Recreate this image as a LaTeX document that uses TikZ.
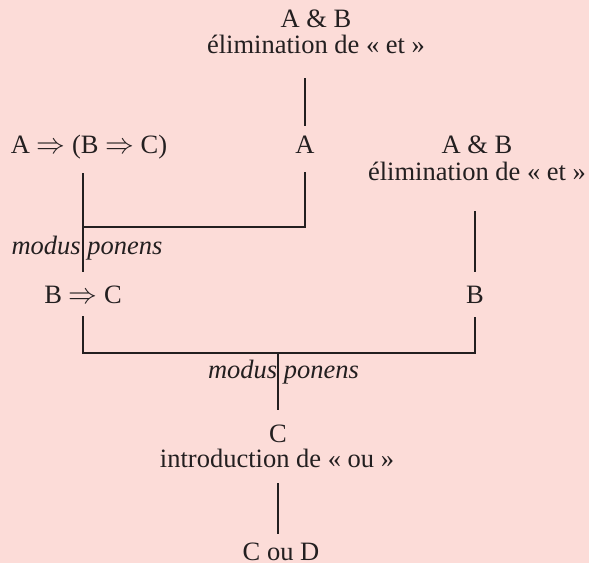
\documentclass[tikz,border=0pt]{standalone}
\usepackage{fontspec}
\setmainfont{Liberation Serif}
\usepackage{xcolor}
\usepackage{tikz}
\definecolor{bgpink}{RGB}{252,220,216}
\definecolor{inkgray}{RGB}{35,31,32}

\begin{document}
\begin{tikzpicture}[
    x=0.5pt, y=-0.5pt,
    formula/.style={anchor=base, inner sep=0pt, text=inkgray, font=\fontsize{13.25}{15}\selectfont},
    rulename/.style={formula},
    modus/.style={formula, font=\fontsize{13.25}{15}\selectfont\itshape},
    ruleline/.style={draw=inkgray, line width=0.7pt}
]
\fill[bgpink] (0,0) rectangle (589,563);
\useasboundingbox (0,0) rectangle (589,563);

\node[formula] (ab1) at (316,27) {A \& B};
\node[rulename] (elim1) at (316,53) {élimination de «~et~»};
\node[formula] (impl) at (89,153) {A $\Rightarrow$ (B $\Rightarrow$ C)};
\node[formula] (a) at (305,153) {A};
\node[formula] (ab2) at (477,153) {A \& B};
\node[rulename] (elim2) at (477,180) {élimination de «~et~»};
\node[modus] (mp1) at (87,254) {modus ponens};
\node[formula] (bc) at (83,303) {B $\Rightarrow$ C};
\node[formula] (b) at (475,303) {B};
\node[modus] (mp2) at (283.5,378) {modus ponens};
\node[formula] (c) at (278,442) {C};
\node[rulename] (intro) at (277,467) {introduction de «~ou~»};
\node[formula] (cord) at (281,560) {C ou D};

\coordinate (bar1) at (305,227);
\coordinate (bar2) at (278,353);

\draw[ruleline, shorten <=12.5pt, shorten >=13.5pt] (elim1.base -| a.base) -- (a.base);
\draw[ruleline, shorten <=10pt, shorten >=15.5pt] (impl.base -| bc.base) -- (bc.base);
\draw[ruleline, shorten <=9.5pt] (a.base) -- (bar1) -- (bar1 -| bc.base);
\draw[ruleline, shorten <=15.5pt, shorten >=15.5pt] (elim2.base -| b.base) -- (b.base);
\draw[ruleline, shorten <=6.5pt, shorten >=7pt] (bc.base) -- (bar2 -| bc.base) -- (bar2 -| b.base) -- (b.base);
\draw[ruleline, shorten >=16pt] (bar2) -- (c.base);
\draw[ruleline, shorten <=8pt, shorten >=13pt] (intro.base -| c.base) -- (cord.base -| c.base);
\end{tikzpicture}
\end{document}
